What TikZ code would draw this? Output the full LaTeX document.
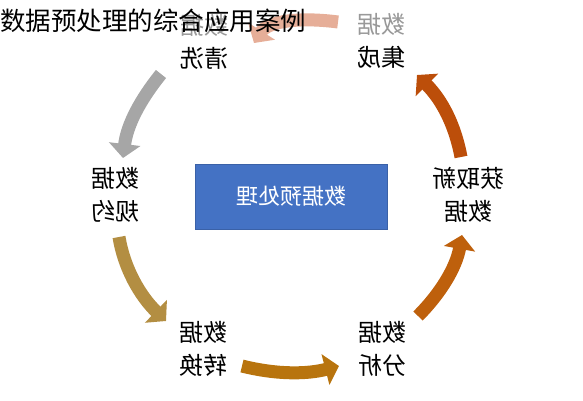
\documentclass[tikz,border=0pt]{standalone}
\usepackage{fontspec}
\setmainfont{Noto Sans CJK SC}
\usetikzlibrary{arrows.meta}
\definecolor{boxblue}{HTML}{4472C4}
\definecolor{cgrey}{HTML}{A6A6A6}
\definecolor{ctan}{HTML}{B38E42}
\definecolor{cbottom}{HTML}{B8740E}
\definecolor{clowright}{HTML}{BE600C}
\definecolor{cupright}{HTML}{BC4E0A}
\definecolor{csalmon}{HTML}{E6AE98}
\begin{document}
\begin{tikzpicture}[x=1pt,y=-1pt,
  lbl/.style={xscale=-1, align=center, font=\fontsize{24}{33}\selectfont, inner sep=0pt},
  arr/.style={line width=13pt, -{Triangle[width=31pt,length=14pt]}}
]
\useasboundingbox (0,0) rectangle (583,400);
% step labels (mirrored as in the reference)
\node[lbl] (cl) at (204,42) {数据\\清洗};
\node[lbl] (jc) at (381,41) {数据\\集成};
\node[lbl] (hq) at (468,195) {获取新\\数据};
\node[lbl] (gy) at (115,195) {数据\\规约};
\node[lbl] (zh) at (203,349) {数据\\转换};
\node[lbl] (fx) at (382,349) {数据\\分析};
% central box
\node[draw=boxblue!85!black, fill=boxblue, minimum width=192pt, minimum height=65pt,
      inner sep=0pt, text=white, font=\fontsize{22}{26}\selectfont, xscale=-1] (box) at (291,196.5) {数据预处理};
% arrow end points
\coordinate (a2s) at (161,74);   \coordinate (a2e) at (123,158);
\coordinate (a3s) at (119,237);  \coordinate (a3e) at (166,321);
\coordinate (a4s) at (242,366);  \coordinate (a4e) at (339,366);
\coordinate (a5s) at (418,316);  \coordinate (a5e) at (462,235);
\coordinate (a6s) at (461,157);  \coordinate (a6e) at (417,75);
\draw[arr, cgrey] (a2s) .. controls (140,100) and (127,125) .. (a2e);
\draw[arr, ctan] (a3s) .. controls (124,268) and (140,296) .. (a3e);
\draw[arr, cbottom] (a4s) .. controls (278,375) and (308,374) .. (a4e);
\draw[arr, clowright] (a5s) .. controls (440,294) and (456,268) .. (a5e);
\draw[arr, cupright] (a6s) .. controls (455,125) and (442,100) .. (a6e);
% fading band at the top
\fill[white, opacity=0.6] (0,0) rectangle (583,43);
% top arrow (faded)
\coordinate (a1s) at (338,22);   \coordinate (a1e) at (254,43);
\draw[arr, csalmon] (a1s) .. controls (300,17) and (268,21) .. (a1e);
% title
\node[anchor=west, font=\fontsize{25.5}{30}\selectfont, inner sep=0pt] (title) at (0,21) {数据预处理的综合应用案例};
\end{tikzpicture}
\end{document}
